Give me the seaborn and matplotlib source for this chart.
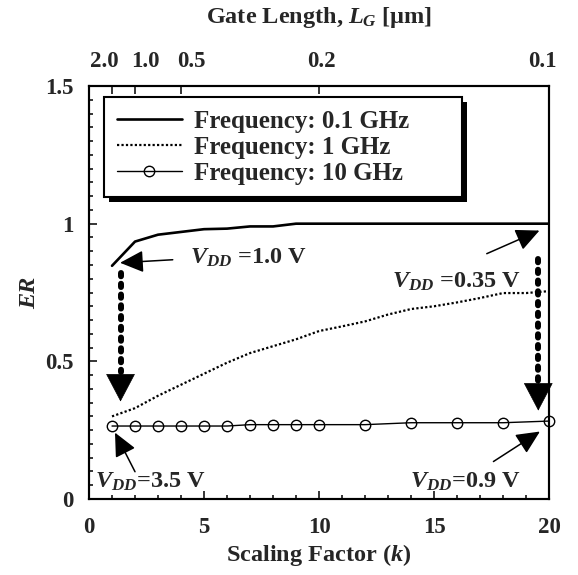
import numpy as np
import pandas as pd
import matplotlib
matplotlib.use("Agg")
import matplotlib.pyplot as plt
import seaborn as sns
from matplotlib.ticker import MultipleLocator
from matplotlib.patches import Rectangle
from matplotlib.transforms import IdentityTransform, ScaledTranslation

# ---------------- data ----------------
k_01 = [1, 2, 3, 4, 5, 6, 7, 8, 9, 10, 12, 14, 16, 18, 20]
er_01 = [0.847, 0.935, 0.96, 0.97, 0.98, 0.982, 0.99, 0.99, 1.0, 1.0, 1.0, 1.0, 1.0, 1.0, 1.0]

k_1 = [1, 2, 3, 4, 5, 6, 7, 8, 9, 10, 11, 12, 13, 14, 15, 16, 17, 18, 19, 20]
er_1 = [0.30, 0.33, 0.375, 0.415, 0.455, 0.495, 0.53, 0.555, 0.58, 0.61,
        0.627, 0.645, 0.67, 0.69, 0.70, 0.714, 0.73, 0.748, 0.748, 0.755]

k_10 = [1, 2, 3, 4, 5, 6, 7, 8, 9, 10, 12, 14, 16, 18, 20]
er_10 = [0.265, 0.265, 0.265, 0.265, 0.265, 0.265, 0.27, 0.27, 0.27, 0.27,
         0.27, 0.277, 0.277, 0.277, 0.283]

series_labels = ["Frequency: 0.1 GHz", "Frequency: 1 GHz", "Frequency: 10 GHz"]

x_ticks = [0, 5, 10, 15, 20]
y_ticks = [0, 0.5, 1, 1.5]
y_ticklabels = ["0", "0.5", "1", "1.5"]
gate_lengths = [2.0, 1.0, 0.5, 0.2, 0.1]          # top axis, L_G [um]
gate_labels = ["2.0", "1.0", "0.5", "0.2", "0.1"]
gate_k = [2.0 / L for L in gate_lengths]           # k = 2 um / L_G

# ---------------- style ----------------
sns.set_theme(style="ticks")
plt.rcParams["font.family"] = ["Liberation Serif", "DejaVu Serif"]
plt.rcParams["font.weight"] = "bold"
plt.rcParams["mathtext.fontset"] = "custom"
plt.rcParams["mathtext.rm"] = "Liberation Serif:bold"
plt.rcParams["mathtext.it"] = "Liberation Serif:italic:bold"
plt.rcParams["mathtext.bf"] = "Liberation Serif:bold"
plt.rcParams["axes.linewidth"] = 1.5

fig = plt.figure(figsize=(5.78, 5.75), dpi=100)
ax = fig.add_axes([0.154, 0.1322, 0.796, 0.7182])

df01 = pd.DataFrame({"k": k_01, "ER": er_01})
df1 = pd.DataFrame({"k": k_1, "ER": er_1})
df10 = pd.DataFrame({"k": k_10, "ER": er_10})

sns.lineplot(data=df01, x="k", y="ER", ax=ax, color="black", lw=1.9,
             label=series_labels[0])
sns.lineplot(data=df1, x="k", y="ER", ax=ax, color="black", lw=1.6,
             linestyle=(0, (1, 1)), label=series_labels[1])
sns.lineplot(data=df10, x="k", y="ER", ax=ax, color="black", lw=1.0,
             marker="o", markersize=7.5, markerfacecolor="none",
             markeredgecolor="black", markeredgewidth=1.0,
             label=series_labels[2], clip_on=False)

ax.set_xlim(0, 20)
ax.set_ylim(0, 1.5)
ax.set_xticks(x_ticks)
ax.set_xticklabels([str(v) for v in x_ticks])
ax.set_yticks(y_ticks)
ax.set_yticklabels(y_ticklabels)
ax.xaxis.set_minor_locator(MultipleLocator(1))
ax.yaxis.set_minor_locator(MultipleLocator(0.05))
ax.tick_params(which="both", direction="in", top=False, right=False,
               width=1.1, color="black", labelsize=16.5, pad=11)
ax.tick_params(axis="x", pad=13)
ax.tick_params(which="major", length=5.8)
ax.tick_params(which="minor", length=3.0)
for s in ax.spines.values():
    s.set_visible(True)
    s.set_color("black")
    s.set_linewidth(1.5)

ax.set_xlabel(r"Scaling Factor ($k$)", fontsize=17.5, fontweight="bold", labelpad=3)
ax.set_ylabel("ER", fontsize=17.5, fontweight="bold", fontstyle="italic", labelpad=4)

ax2 = ax.twiny()
ax2.set_xlim(0, 20)
ax2.set_xticks(gate_k)
ax2.set_xticklabels(gate_labels)
ax2.tick_params(which="major", direction="in", length=5.8, width=1.1,
                labelsize=16.5, pad=10, color="black")
ax2.set_xlabel(r"Gate Length, $L_G$ [μm]", fontsize=17.5, fontweight="bold",
               labelpad=20)
for s in ax2.spines.values():
    s.set_linewidth(1.5)
    s.set_color("black")
# the reference spreads the crowded top labels a little apart
label_shift_px = [-8, 10, 10, 2, -7]
for lab, dx in zip(ax2.get_xticklabels(), label_shift_px):
    lab.set_transform(lab.get_transform() +
                      ScaledTranslation(dx / 100.0, 0, fig.dpi_scale_trans))

# ---------------- legend ----------------
leg = ax.legend(loc="upper left", bbox_to_anchor=(0.0326, 0.72, 0.778, 0.253),
                mode="expand", borderaxespad=0, fontsize=18, frameon=True,
                fancybox=False, framealpha=1, edgecolor="black",
                handlelength=2.6, handletextpad=0.5, labelspacing=0.12,
                borderpad=0.5)
leg.get_frame().set_linewidth(1.5)
leg.set_zorder(10)

# ---------------- annotations ----------------
txt_kw = dict(fontsize=17.5, fontweight="bold", va="center", ha="left")
ax.text(4.39, 0.876, r"$V_{DD}$ =1.0 V", **txt_kw)
ax.text(13.16, 0.79, r"$V_{DD}$ =0.35 V", **txt_kw)
ax.text(0.26, 0.063, r"$V_{DD}$=3.5 V", **txt_kw)
ax.text(13.96, 0.063, r"$V_{DD}$=0.9 V", **txt_kw)

thin = dict(arrowstyle="-|>,head_length=1.45,head_width=0.68", color="black",
            lw=1.1, mutation_scale=10, shrinkA=0, shrinkB=0)
ax.annotate("", xy=(1.35, 0.858), xytext=(3.64, 0.869), arrowprops=thin)
ax.annotate("", xy=(19.58, 0.975), xytext=(17.29, 0.891), arrowprops=thin)
ax.annotate("", xy=(1.13, 0.241), xytext=(2.0, 0.099), arrowprops=thin)
ax.annotate("", xy=(19.6, 0.245), xytext=(17.58, 0.136), arrowprops=thin)

big = dict(arrowstyle="-|>,head_length=1.9,head_width=1.0", color="black",
           lw=0.5, mutation_scale=10, shrinkA=0, shrinkB=0)
for xv, ytop, ybase, ytip in [(1.37, 0.82, 0.45, 0.354), (19.53, 0.873, 0.415, 0.321)]:
    ax.plot([xv, xv], [ytop, ybase + 0.01], color="black", lw=4.3,
            linestyle=(0, (0.55, 1.25)), dash_capstyle="round")
    ax.annotate("", xy=(xv, ytip), xytext=(xv, ybase + 0.01), arrowprops=big)

# black drop shadow behind the legend frame
fig.canvas.draw()
bb = leg.get_frame().get_window_extent(fig.canvas.get_renderer())
ax.add_artist(Rectangle((bb.x0 + 5, bb.y0 - 5), bb.width, bb.height,
                        transform=IdentityTransform(), facecolor="black",
                        edgecolor="none", zorder=9.5, clip_on=False))

fig.savefig("out.png", dpi=100)
